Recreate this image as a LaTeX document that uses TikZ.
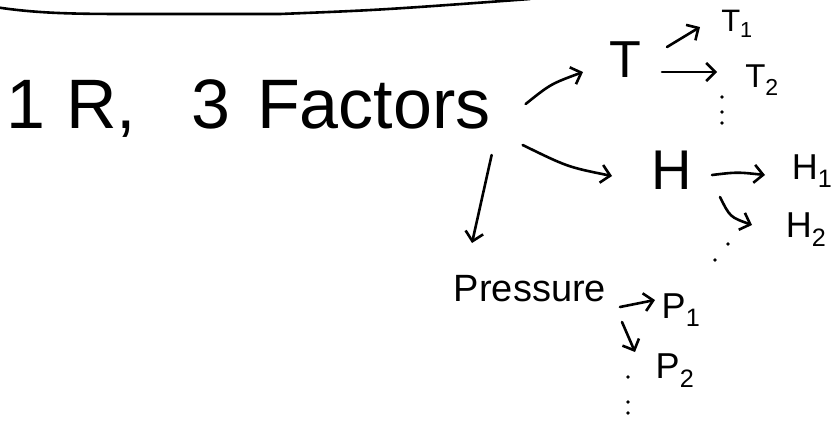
\documentclass[tikz,border=0pt]{standalone}
\usepackage{fontspec}
\setmainfont{Liberation Sans}
\usetikzlibrary{arrows.meta,calc}
\begin{document}
\begin{tikzpicture}[x=1pt,y=-1pt, line cap=round, line join=round,
  ink/.style={line width=2.6pt, black},
  arr/.style={ink, -{Straight Barb[length=9pt,width=18pt,line width=2.6pt]}},
  lbl/.style={inner sep=0pt, anchor=center},
  dotmark/.style={circle, fill=black, inner sep=0pt, minimum size=3.6pt}]
\useasboundingbox (0,0) rectangle (838,421);

% top stroke
\draw[ink] (-5,7) .. controls (40,14) and (80,14) .. (140,14) -- (280,14) .. controls (380,10) .. (530,-1);

% labels
\node[lbl, anchor=base west, font=\fontsize{70}{70}\selectfont] (title) at (6,128)
  {1\hspace{21pt}R,\hspace{55pt}3\hspace{27pt}Factors};
\node[lbl, font=\fontsize{52}{52}\selectfont] (T) at (625,60) {T};
\node[lbl, font=\fontsize{31}{31}\selectfont] (T1) at (737,24) {T\textsubscript{1}};
\node[lbl, font=\fontsize{33}{33}\selectfont] (T2) at (762,80) {T\textsubscript{2}};
\node[lbl, font=\fontsize{56}{56}\selectfont] (H) at (672,170) {H};
\node[lbl, font=\fontsize{36}{36}\selectfont] (H1) at (812,171) {H\textsubscript{1}};
\node[lbl, font=\fontsize{36}{36}\selectfont] (H2) at (806,230) {H\textsubscript{2}};
\node[lbl, font=\fontsize{38}{38}\selectfont] (P) at (530,289) {Pressure};
\node[lbl, font=\fontsize{36}{36}\selectfont] (P1) at (681,310) {P\textsubscript{1}};
\node[lbl, font=\fontsize{36}{36}\selectfont] (P2) at (675,371) {P\textsubscript{2}};

% connectors
\draw[arr] ($(title.base east)+(35,-24)$) .. controls +(25,-20) .. ($(T)+(-42,12)$);
\draw[arr] ($(title.base east)+(32,17)$) .. controls +(45,22) .. ($(H)+(-60,6)$);
\draw[arr] ($(title.base east)+(1,27)$) -- ($(P)+(-58,-46)$);
\draw[arr] ($(T)+(42,-13)$) -- ($(T1)+(-37,3)$);
\draw[arr] ($(T)+(37,12)$) -- ($(T2)+(-45,-8)$);
\draw[arr] ($(H)+(40,5)$) .. controls +(25,-3) .. ($(H1)+(-47,4)$);
\draw[arr] ($(H)+(48,27)$) .. controls +(10,20) .. ($(H2)+(-54,-5)$);
\draw[arr] ($(P)+(90,18)$) -- ($(P1)+(-26,-10)$);
\draw[arr] ($(P)+(92,33)$) -- ($(P2)+(-40,-19)$);

% continuation dots
\node[dotmark] (t1) at (722,97) {};
\node[dotmark] (t2) at (722,112) {};
\node[dotmark] (t3) at (722,123) {};
\node[dotmark] (h1) at (728,244) {};
\node[dotmark] (h2) at (715,260) {};
\node[dotmark] (p1) at (628,377) {};
\node[dotmark] (p2) at (628,402) {};
\node[dotmark] (p3) at (628,413) {};
\end{tikzpicture}
\end{document}
